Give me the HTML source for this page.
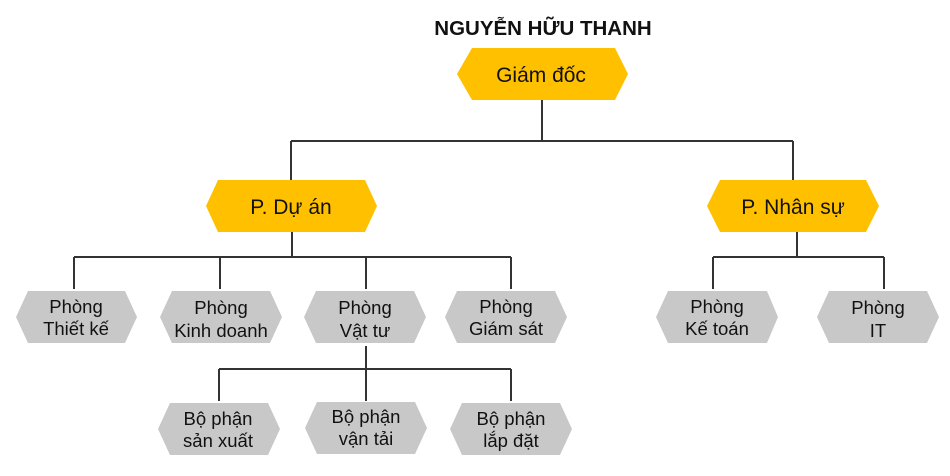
<!DOCTYPE html>
<html><head><meta charset="utf-8"><style>
html,body{margin:0;padding:0;background:#fff;}
svg{display:block;}
text{font-family:"Liberation Sans",Arial,sans-serif;fill:#111;}
</style></head><body>
<svg width="950" height="476" viewBox="0 0 950 476" xmlns="http://www.w3.org/2000/svg">
<text x="543" y="35" font-size="20.5" font-weight="bold" text-anchor="middle">NGUYỄN HỮU THANH</text>
<g stroke="#333" stroke-width="2" fill="none">
<path d="M542 100V141M291 141H793M291 141V180M793 141V180"/>
<path d="M292 232V257M74 257H511M74 257V289M220 257V289M366 257V289M511 257V289"/>
<path d="M797 232V257M713 257H884M713 257V289M884 257V289"/>
<path d="M366 346V401M219 369H511M219 369V401M511 369V401"/>
</g>
<g fill="#FFC000">
<polygon points="457,74 472,48 615,48 628,74 615,100 472,100"/>
<polygon points="206,206 218,180 365,180 377,206 365,232 218,232"/>
<polygon points="707,206 720,180 866,180 879,206 866,232 720,232"/>
</g>
<g fill="#C8C8C8">
<polygon points="16,317 28,291 125,291 137,317 125,343 28,343"/>
<polygon points="160,317 172,291 270,291 282,317 270,343 172,343"/>
<polygon points="304,317 316,291 414,291 426,317 414,343 316,343"/>
<polygon points="445,317 457,291 555,291 567,317 555,343 457,343"/>
<polygon points="656,317 668,291 767,291 778,317 767,343 668,343"/>
<polygon points="817,317 829,291 927,291 939,317 927,343 829,343"/>
<polygon points="158,429 170,403 268,403 280,429 268,455 170,455"/>
<polygon points="305,428 317,402 415,402 427,428 415,454 317,454"/>
<polygon points="450,429 462,403 560,403 572,429 560,455 462,455"/>
</g>
<g font-size="21" text-anchor="middle">
<text x="541" y="82">Giám đốc</text>
<text x="291" y="214">P. Dự án</text>
<text x="793" y="214">P. Nhân sự</text>
</g>
<g font-size="18.5" text-anchor="middle">
<text x="76" y="313">Phòng</text><text x="76" y="335">Thiết kế</text>
<text x="221" y="314">Phòng</text><text x="221" y="337">Kinh doanh</text>
<text x="365" y="314">Phòng</text><text x="365" y="337">Vật tư</text>
<text x="506" y="313">Phòng</text><text x="506" y="335">Giám sát</text>
<text x="717" y="313">Phòng</text><text x="717" y="335">Kế toán</text>
<text x="878" y="314">Phòng</text><text x="878" y="337">IT</text>
<text x="218" y="425">Bộ phận</text><text x="218" y="447">sản xuất</text>
<text x="366" y="423">Bộ phận</text><text x="366" y="445">vận tải</text>
<text x="511" y="425">Bộ phận</text><text x="511" y="447">lắp đặt</text>
</g>
</svg>
</body></html>
